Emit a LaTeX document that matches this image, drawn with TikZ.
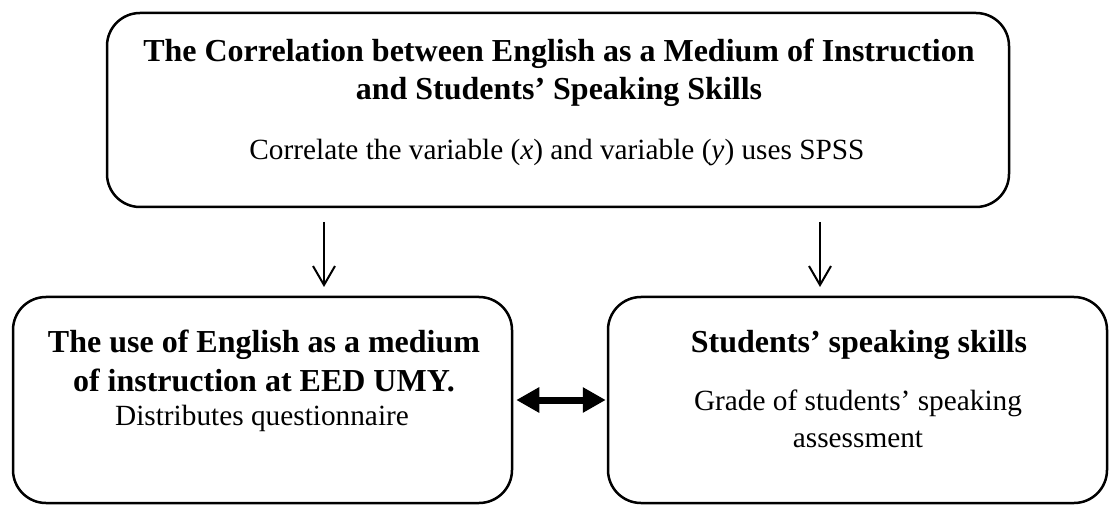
\documentclass[tikz,border=0pt]{standalone}
\usepackage{fontspec}
\setmainfont{Liberation Serif}
\usetikzlibrary{arrows.meta}
\begin{document}
\begin{tikzpicture}[x=1pt,y=-1pt,
  box/.style={draw, line width=2.5pt, rounded corners=33pt, inner sep=0pt},
  ttl/.style={anchor=base, inner sep=0pt, font=\fontsize{32}{38}\selectfont\bfseries},
  sub/.style={anchor=base, inner sep=0pt, font=\fontsize{29.3}{35}\selectfont},
  down/.style={line width=2pt, -{Straight Barb[length=19pt,width=22pt,line width=2pt]}},
  both/.style={line width=7pt, {Triangle[length=23pt,width=24pt]}-{Triangle[length=23pt,width=24pt]}, shorten <=3pt, shorten >=1pt}
]
\useasboundingbox (0,0) rectangle (1109,505);
% boxes
\node[box, minimum width=902pt, minimum height=194pt] (top) at (558,110) {};
\node[box, minimum width=499pt, minimum height=206pt] (L) at (262.5,400) {};
\node[box, minimum width=499pt, minimum height=206pt] (R) at (857.5,400) {};
% top text
\node[ttl] (t1) at (559,62) {The Correlation between English as a Medium of Instruction};
\node[ttl] (t2) at (559,100) {and Students’ Speaking Skills};
\node[sub] (t3) at (557,160) {Correlate the variable (\textit{x}) and variable (\textit{y}) uses SPSS};
% left text
\node[ttl] (l1) at (264,352) {The use of English as a medium};
\node[ttl] (l2) at (264,391) {of instruction at EED UMY.};
\node[sub] (l3) at (262,425) {Distributes questionnaire};
% right text
\node[ttl] (r1) at (859,352) {Students’ speaking skills};
\node[sub] (r2) at (858,410) {Grade of students’ speaking};
\node[sub] (r3) at (858,447) {assessment};
% arrows
\coordinate (a1s) at (324,222);
\coordinate (a1e) at (324,287);
\coordinate (a2s) at (820,222);
\coordinate (a2e) at (820,287);
\draw[down] (a1s) -- (a1e);
\draw[down] (a2s) -- (a2e);
\draw[both] (L.east) -- (R.west);
\end{tikzpicture}
\end{document}
